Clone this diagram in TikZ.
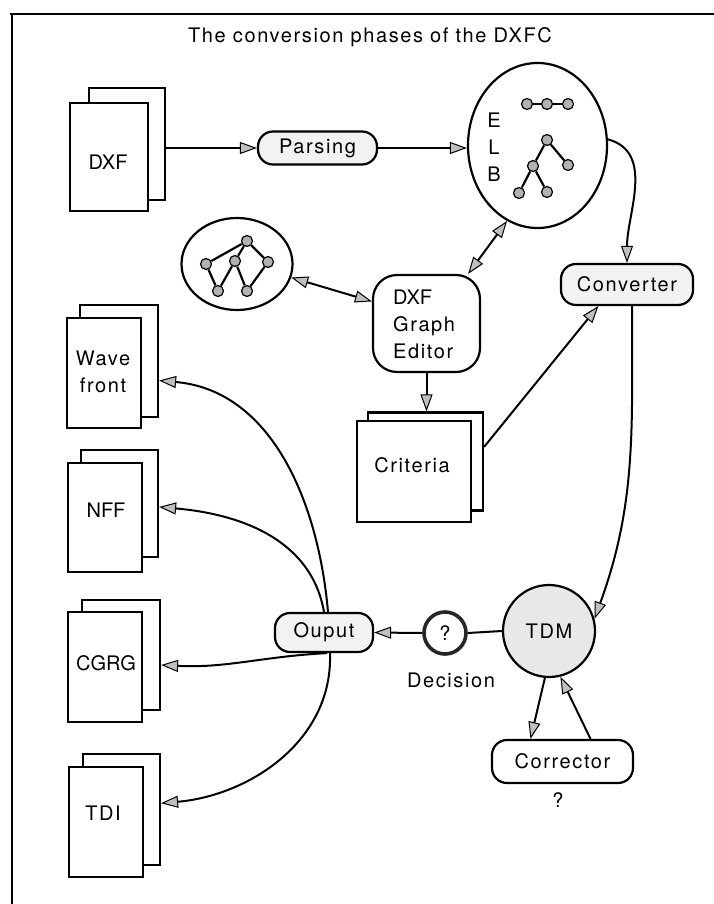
\documentclass[tikz,border=0pt]{standalone}
\usepackage{fontspec}
\setmainfont{TeX Gyre Heros}[LetterSpace=8]
\newfontfamily\tightfont{TeX Gyre Heros}
\usetikzlibrary{arrows.meta,shapes.geometric,calc}
\tikzset{
  lw/.style={line width=2pt},
  conn/.style={line width=2pt,-{Triangle[length=17pt,width=12pt,fill=gray!50,line width=1pt]}},
  dconn/.style={line width=2pt,{Triangle[length=17pt,width=12pt,fill=gray!50,line width=1pt]}-{Triangle[length=17pt,width=12pt,fill=gray!50,line width=1pt]}},
  txt/.style={font=\fontsize{20}{27}\selectfont, inner sep=0pt},
  ttxt/.style={font=\fontsize{20}{27}\tightfont, inner sep=0pt},
  page/.style={draw, rectangle, line width=2.2pt, fill=white, inner sep=0pt, txt},
  pill/.style={draw, rectangle, rounded corners=15pt, line width=2.2pt, inner sep=0pt, txt},
  gnode/.style={circle, draw, fill=gray!60, line width=1.2pt, minimum size=11pt, inner sep=0pt},
  gedge/.style={line width=2.2pt},
}
\begin{document}
\begin{tikzpicture}[x=1pt,y=-1pt]
\useasboundingbox (0,0) rectangle (714,904);
% frame
\draw[line width=2.4pt] (10,14) coordinate (ftl) -- (714,14) coordinate (ftr);
\draw[line width=2.4pt] (12,13) coordinate (fl1) -- (12,904) coordinate (fl2);
% title
\node[txt] (title) at (370,37) {The conversion phases of the DXFC};

% DXF document
\node[page, minimum width=76pt, minimum height=112pt] (dxfb) at (127,144) {};
\node[page, ttxt, minimum width=78pt, minimum height=108pt] (dxff) at (109,157) {};
\node[ttxt] (dxftxt) at (108,162) {DXF};

% Parsing
\node[pill, fill=gray!10, minimum width=119pt, minimum height=33pt] (parsing) at (317.5,148) {Parsing};

% ELB ellipse
\node[ellipse, draw, line width=2.2pt, minimum width=139pt, minimum height=165pt, inner sep=0pt] (elb) at (537.5,145.5) {};
\node[txt] (le) at (494,120) {E};
\node[txt] (ll) at (494,147) {L};
\node[txt] (lb) at (494,174) {B};
\node[gnode] (l1) at (527,104) {};
\node[gnode] (l2) at (547,104) {};
\node[gnode] (l3) at (568,104) {};
\draw[gedge] (l1) -- (l2) -- (l3);
\node[gnode] (t1) at (547,140) {};
\node[gnode] (t2) at (533,166) {};
\node[gnode] (t3) at (568,165) {};
\node[gnode] (t4) at (519,193) {};
\node[gnode] (t5) at (547,192) {};
\draw[gedge] (t1) -- (t2) (t1) -- (t3) (t2) -- (t4) (t2) -- (t5);

% graph circle
\node[ellipse, draw, line width=2.2pt, minimum width=111pt, minimum height=92pt, inner sep=0pt] (graph) at (237,264) {};
\node[gnode] (g1) at (247,241) {};
\node[gnode] (g2) at (206,264) {};
\node[gnode] (g3) at (235,261) {};
\node[gnode] (g4) at (268,262) {};
\node[gnode] (g5) at (218,291) {};
\node[gnode] (g6) at (247,291) {};
\draw[gedge] (g1) -- (g2) (g1) -- (g4) (g1) -- (g3) (g2) -- (g5) (g5) -- (g3) (g3) -- (g6) (g6) -- (g4);

% DXF Graph Editor
\node[draw, rectangle, rounded corners=24pt, line width=2.2pt, minimum width=107pt, minimum height=97pt, inner sep=0pt] (gedit) at (426.5,323.5) {};
\node[ttxt, anchor=base west] (ge1) at (393,304) {DXF};
\node[txt, anchor=base west] (ge2) at (393,331) {Graph};
\node[txt, anchor=base west] (ge3) at (393,358) {Editor};

% Converter
\node[pill, fill=gray!10, minimum width=132pt, minimum height=41pt] (conv) at (627,284.5) {Converter};

% Criteria document
\node[page, minimum width=115pt, minimum height=98pt] (critb) at (425.5,461.5) {};
\node[page, minimum width=114pt, minimum height=101pt] (critf) at (414,471.5) {};
\node[txt] (crittxt) at (412,465) {Criteria};

% output documents
\node[page, minimum width=78pt, minimum height=112pt] (waveb) at (119,361) {};
\node[page, minimum width=74pt, minimum height=110pt, align=center] (wavef) at (104,373) {};
\node[txt, align=center] (wavetxt) at (103,372) {Wave\\front};

\node[page, minimum width=77pt, minimum height=107pt] (nffb) at (119.5,503.5) {};
\node[page, minimum width=74pt, minimum height=109pt] (nfff) at (105,517.5) {};
\node[ttxt] (nfftxt) at (106,510) {NFF};

\node[page, minimum width=78pt, minimum height=110pt] (cgrgb) at (121,655) {};
\node[page, minimum width=74pt, minimum height=110pt] (cgrgf) at (105,667) {};
\node[ttxt] (cgrgtxt) at (106,663) {CGRG};

\node[page, minimum width=77pt, minimum height=111pt] (tdib) at (121.5,809.5) {};
\node[page, minimum width=74pt, minimum height=110pt] (tdif) at (106,822) {};
\node[txt] (tditxt) at (103,813) {TDI};

% Ouput, Decision, TDM, Corrector
\node[pill, fill=gray!10, minimum width=98pt, minimum height=39pt] (ouput) at (324,632.5) {Ouput};
\node[circle, draw=black!85, line width=3.6pt, minimum size=42pt, inner sep=0pt, txt] (dec) at (445,633) {?};
\node[txt] (declab) at (451,680) {Decision};
\node[circle, draw, fill=gray!18, line width=2.2pt, minimum size=92pt, inner sep=0pt, txt] (tdm) at (549,631) {TDM};
\node[pill, minimum width=141pt, minimum height=43pt] (corr) at (562.5,761.5) {Corrector};
\node[txt] (corrq) at (558,800) {?};

% connectors
\draw[conn] (dxfb.east |- parsing.west) -- (parsing.west);
\draw[conn] (parsing.east) -- (parsing.east -| elb.west);
\draw[dconn] (elb.248) -- (gedit.50);
\draw[dconn] (graph.-14) -- (gedit.158);
\draw[conn] (gedit.south) -- (gedit.south |- critb.north);
\draw[conn] (critb.14) -- (conv.217);
\draw[conn] (elb.5) to[out=-15,in=90] (conv.north);
\draw[conn] ([xshift=5pt]conv.south) to[out=-90,in=70] (tdm.15);
\draw[lw] (tdm.west) -- (dec.east);
\draw[conn] (dec.west) -- (ouput.east);
\draw[conn] (tdm.265) -- ([xshift=-32pt]corr.north);
\draw[conn] ([xshift=28pt]corr.north) -- (tdm.284);
\draw[conn] ([xshift=4pt]ouput.north) to[out=95,in=-5] (waveb.-26);
\draw[conn] (ouput.north) to[out=100,in=-5] (nffb.-5);
\draw[conn] ([xshift=3pt]ouput.south) to[out=183,in=-3] (cgrgb.-14);
\draw[conn] ([xshift=6pt]ouput.south) to[out=-88,in=5] (tdib.9);
\end{tikzpicture}
\end{document}
